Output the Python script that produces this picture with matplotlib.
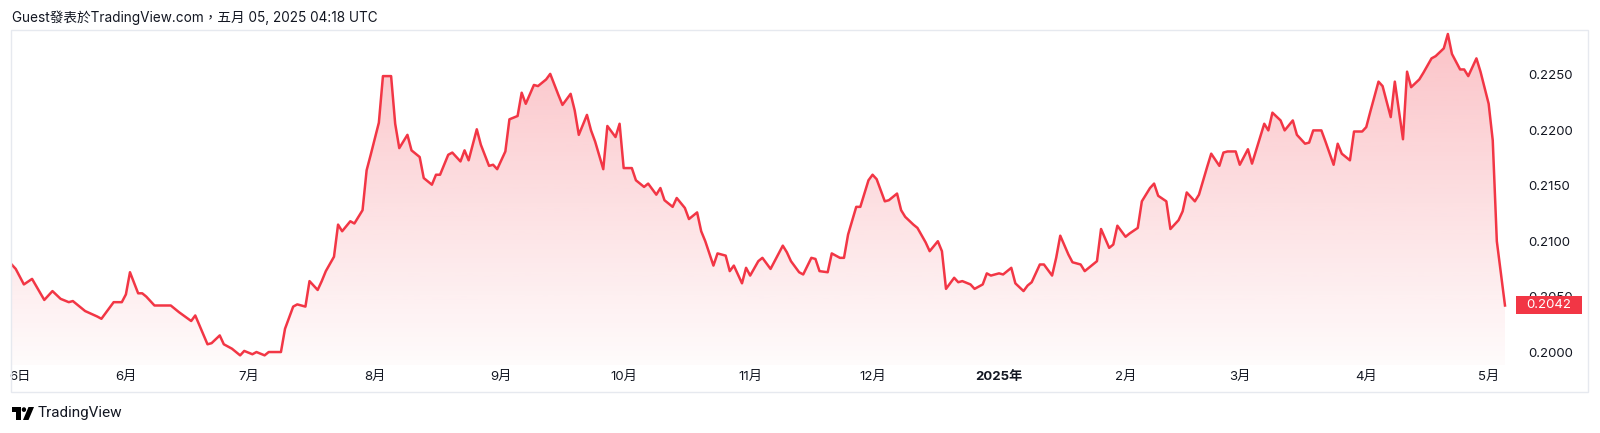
import matplotlib
matplotlib.use('Agg')
import matplotlib.pyplot as plt
import matplotlib.dates as mdates
from matplotlib.patches import Polygon, Rectangle, Circle
from matplotlib.transforms import blended_transform_factory
import numpy as np
import pandas as pd

plt.rcParams['font.family'] = ['Inter', 'Noto Sans CJK TC', 'DejaVu Sans']

# Price line vertices (days after 2024-05-04)
start_date = '2024-05-04'
days = [0, 1, 3, 5, 8, 10, 12, 14, 15, 18,
        21, 22, 25, 27, 28, 29, 31, 32, 33, 35,
        36, 38, 39, 41, 44, 45, 48, 49, 51, 52,
        54, 56, 57, 59, 60, 62, 63, 64, 66, 67,
        69, 70, 72, 73, 75, 76, 77, 79, 80, 81,
        83, 84, 86, 87, 88, 90, 91, 93, 94, 95,
        97, 98, 100, 101, 103, 104, 105, 107, 108, 110,
        111, 112, 114, 115, 117, 118, 119, 121, 122, 124,
        125, 126, 128, 129, 131, 132, 134, 135, 137, 138,
        139, 141, 142, 143, 145, 146, 148, 149, 150, 152,
        153, 155, 156, 158, 159, 160, 162, 163, 165, 166,
        168, 169, 170, 172, 173, 175, 176, 177, 179, 180,
        181, 183, 184, 186, 187, 189, 190, 191, 193, 194,
        196, 197, 198, 200, 201, 203, 204, 205, 207, 208,
        210, 211, 212, 214, 215, 217, 218, 219, 221, 222,
        224, 225, 227, 228, 229, 231, 232, 233, 235, 236,
        238, 239, 240, 242, 243, 245, 246, 248, 249, 250,
        252, 253, 255, 256, 257, 259, 260, 262, 263, 265,
        266, 267, 269, 270, 271, 273, 274, 276, 277, 279,
        280, 281, 283, 284, 286, 287, 288, 290, 291, 293,
        294, 296, 297, 298, 300, 301, 303, 304, 307, 308,
        309, 311, 312, 314, 315, 317, 318, 319, 321, 322,
        324, 325, 326, 328, 329, 331, 332, 333, 335, 336,
        338, 339, 341, 342, 343, 345, 346, 348, 349, 351,
        352, 353, 355, 356, 357, 359, 360, 362, 363, 364,
        366]
prices = [0.2079, 0.2075, 0.2061, 0.2066, 0.2047, 0.2055, 0.2048, 0.2045, 0.2046, 0.2037,
          0.2032, 0.2030, 0.2045, 0.2045, 0.2052, 0.2072, 0.2053, 0.2053, 0.2050, 0.2042,
          0.2042, 0.2042, 0.2042, 0.2036, 0.2028, 0.2033, 0.2007, 0.2008, 0.2015, 0.2007,
          0.2003, 0.1997, 0.2001, 0.1998, 0.2000, 0.1997, 0.2000, 0.2000, 0.2000, 0.2021,
          0.2041, 0.2043, 0.2041, 0.2064, 0.2056, 0.2064, 0.2073, 0.2086, 0.2115, 0.2109,
          0.2118, 0.2116, 0.2128, 0.2164, 0.2178, 0.2207, 0.2249, 0.2249, 0.2206, 0.2184,
          0.2196, 0.2182, 0.2176, 0.2157, 0.2151, 0.2160, 0.2160, 0.2178, 0.2180, 0.2172,
          0.2182, 0.2173, 0.2201, 0.2187, 0.2168, 0.2169, 0.2165, 0.2181, 0.2210, 0.2213,
          0.2234, 0.2224, 0.2241, 0.2240, 0.2246, 0.2251, 0.2232, 0.2223, 0.2233, 0.2218,
          0.2196, 0.2214, 0.2200, 0.2190, 0.2165, 0.2204, 0.2194, 0.2206, 0.2166, 0.2166,
          0.2155, 0.2149, 0.2152, 0.2142, 0.2148, 0.2137, 0.2131, 0.2139, 0.2130, 0.2120,
          0.2126, 0.2109, 0.2100, 0.2078, 0.2089, 0.2087, 0.2073, 0.2078, 0.2062, 0.2076,
          0.2069, 0.2082, 0.2085, 0.2075, 0.2082, 0.2096, 0.2090, 0.2082, 0.2072, 0.2070,
          0.2085, 0.2084, 0.2073, 0.2072, 0.2089, 0.2085, 0.2085, 0.2106, 0.2131, 0.2131,
          0.2155, 0.2160, 0.2156, 0.2136, 0.2137, 0.2143, 0.2128, 0.2122, 0.2115, 0.2112,
          0.2099, 0.2091, 0.2100, 0.2091, 0.2057, 0.2067, 0.2063, 0.2064, 0.2061, 0.2057,
          0.2061, 0.2071, 0.2069, 0.2071, 0.2070, 0.2076, 0.2062, 0.2055, 0.2060, 0.2063,
          0.2079, 0.2079, 0.2069, 0.2085, 0.2105, 0.2088, 0.2081, 0.2079, 0.2073, 0.2079,
          0.2082, 0.2111, 0.2094, 0.2097, 0.2114, 0.2104, 0.2107, 0.2112, 0.2136, 0.2148,
          0.2152, 0.2141, 0.2136, 0.2111, 0.2119, 0.2127, 0.2144, 0.2136, 0.2142, 0.2167,
          0.2179, 0.2168, 0.2180, 0.2181, 0.2181, 0.2169, 0.2183, 0.2170, 0.2206, 0.2200,
          0.2216, 0.2209, 0.2200, 0.2209, 0.2196, 0.2188, 0.2189, 0.2200, 0.2200, 0.2190,
          0.2169, 0.2188, 0.2179, 0.2173, 0.2199, 0.2199, 0.2203, 0.2217, 0.2244, 0.2240,
          0.2212, 0.2244, 0.2192, 0.2253, 0.2239, 0.2246, 0.2252, 0.2265, 0.2267, 0.2274,
          0.2287, 0.2269, 0.2255, 0.2255, 0.2249, 0.2265, 0.2253, 0.2224, 0.2191, 0.2100,
          0.2042]

tick_dates = ['2024-05-06', '2024-06-01', '2024-07-01', '2024-08-01', '2024-09-01',
              '2024-10-01', '2024-11-01', '2024-12-01', '2025-01-01', '2025-02-01',
              '2025-03-01', '2025-04-01', '2025-05-01']
tick_labels = ['6日', '6月', '7月', '8月', '9月', '10月', '11月', '12月', '2025年',
               '2月', '3月', '4月', '5月']
price_ticks = [0.2000, 0.2050, 0.2100, 0.2150, 0.2200, 0.2250]
last_label = '0.2042'
header = 'Guest發表於TradingView.com，五月 05, 2025 04:18 UTC'

RED = '#F23645'
TEXT = '#131722'
W, H = 1600, 433

dates = pd.Timestamp(start_date) + pd.to_timedelta(days, unit='D')
xd = mdates.date2num(dates.to_pydatetime())
x_start = mdates.date2num(pd.Timestamp(start_date).to_pydatetime())

fig = plt.figure(figsize=(W / 100, H / 100), dpi=100)
fig.patch.set_facecolor('white')

# pane: x 11..1516 px, y 30..365 px
ax = fig.add_axes([11 / W, 1 - 365 / H, (1516 - 11) / W, (365 - 30) / H])
ax.set_facecolor('white')

ymin, ymax = 0.19883, 0.22906
xmin, xmax = x_start - 0.16, x_start + 368.7

# gradient area under the line
verts = [(xd[0], ymin)] + list(zip(xd, prices)) + [(xd[-1], ymin)]
poly = Polygon(verts, closed=True, facecolor='none', edgecolor='none')
ax.add_patch(poly)
grad = np.zeros((256, 1, 4))
grad[:, 0, 0] = 242 / 255
grad[:, 0, 1] = 54 / 255
grad[:, 0, 2] = 69 / 255
grad[:, 0, 3] = np.linspace(0.02, 0.30, 256)
im = ax.imshow(grad, extent=[xd[0], xd[-1], ymin, max(prices)], aspect='auto',
               origin='lower', zorder=1)
im.set_clip_path(poly)

ax.plot(xd, prices, color=RED, lw=1.8, zorder=3)

ax.set_xlim(xmin, xmax)
ax.set_ylim(ymin, ymax)

for s in ax.spines.values():
    s.set_visible(False)

ax.set_xticks(mdates.date2num(pd.to_datetime(tick_dates).to_pydatetime()))
ax.set_xticklabels(tick_labels)
ax.tick_params(axis='x', length=0, pad=4.5, labelsize=9.5, labelcolor=TEXT)
for lab in ax.get_xticklabels():
    if lab.get_text().endswith('年'):
        lab.set_fontweight('bold')

ax.yaxis.tick_right()
ax.set_yticks(price_ticks)
ax.set_yticklabels(['%.4f' % v for v in price_ticks])
ax.tick_params(axis='y', length=0, pad=8.5, labelsize=9.5, labelcolor=TEXT)

# last price label
trans = blended_transform_factory(ax.transAxes, ax.transData)
box_h = 18 * (ymax - ymin) / (365 - 30)
ax.add_patch(Rectangle((1.0, prices[-1] - box_h / 2), 66 / (1516 - 11), box_h,
                       transform=trans, facecolor=RED, edgecolor='none',
                       clip_on=False, zorder=10))
ax.text((1549 - 11) / (1516 - 11), prices[-1], last_label, transform=trans,
        ha='center', va='center', color='white', fontsize=9.5, zorder=11,
        clip_on=False)

# outer frame
fig.patches.append(Rectangle((11 / W, 1 - 392 / H), (1588 - 11) / W, (392 - 30) / H,
                             transform=fig.transFigure, fill=False,
                             edgecolor='#e6e9ef', lw=1.0))

fig.text(12 / W, 1 - 18 / H, header, ha='left', va='center', fontsize=9.8,
         color=TEXT)

# TradingView logo
lax = fig.add_axes([12 / W, 1 - 420 / H, 22 / W, 13 / H])
lax.set_xlim(0, 36)
lax.set_ylim(20, 0)
lax.axis('off')
lax.add_patch(Polygon([(0, 0), (14, 0), (14, 20), (7, 20), (7, 7), (0, 7)],
                      closed=True, facecolor='black', edgecolor='none'))
lax.add_patch(Circle((19.5, 4), 3.6, facecolor='black', edgecolor='none'))
lax.add_patch(Polygon([(27, 0), (36, 0), (27, 20), (18, 20)],
                      closed=True, facecolor='black', edgecolor='none'))
fig.text(38 / W, 1 - 413 / H, 'TradingView', ha='left', va='center',
         fontsize=11, color=TEXT, fontfamily=['Roboto', 'DejaVu Sans'])

fig.savefig('out.png', dpi=100, facecolor='white')
